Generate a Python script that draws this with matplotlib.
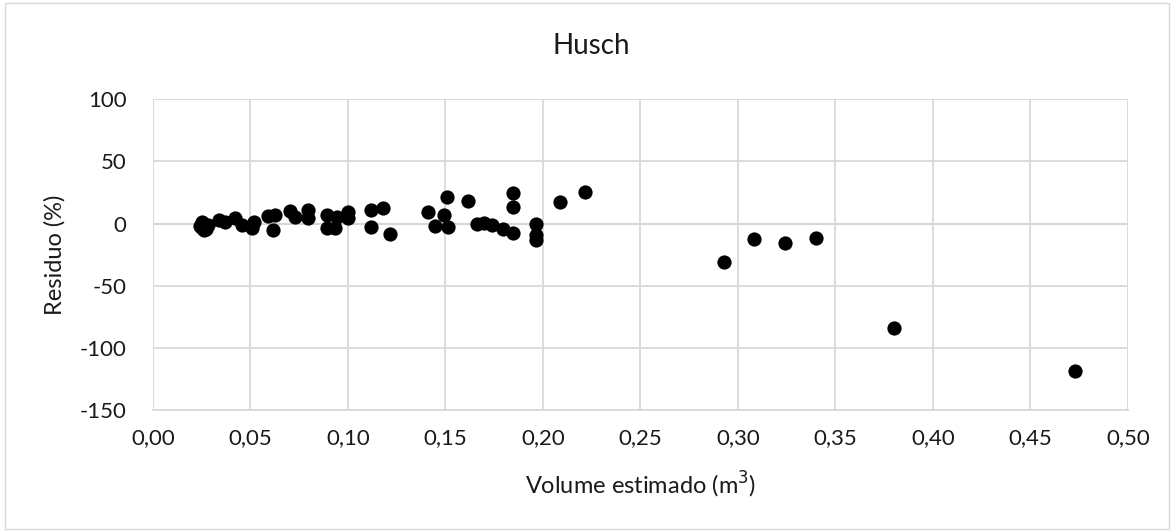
import matplotlib.pyplot as plt
from matplotlib.patches import Rectangle
from matplotlib.ticker import FuncFormatter

plt.rcParams['font.family'] = ['Lato', 'DejaVu Sans']
plt.rcParams['axes.unicode_minus'] = False

volume = [0.024, 0.025, 0.025, 0.026, 0.027, 0.028, 0.034, 0.037, 0.042, 0.0455,
          0.0506, 0.052, 0.059, 0.0626, 0.0617, 0.0703, 0.0728, 0.0797, 0.0797,
          0.0891, 0.0891, 0.0933, 0.0942, 0.1002, 0.1002, 0.112, 0.112, 0.118,
          0.1215, 0.141, 0.1506, 0.149, 0.1446, 0.1514, 0.1617, 0.166, 0.170,
          0.1737, 0.1796, 0.1845, 0.1845, 0.1845, 0.1964, 0.1964, 0.1964, 0.2087,
          0.2215, 0.293, 0.308, 0.324, 0.340, 0.380, 0.473]
residuo = [-2.0, 1.0, -3.5, -5.0, -4.0, -1.5, 3.0, 1.5, 4.5, -1.5,
           -3.5, 1.5, 6.5, 6.9, -5.0, 10.0, 5.5, 10.9, 4.5,
           6.9, -3.9, -3.9, 5.5, 9.5, 4.2, 10.9, -2.6, 12.7,
           -8.5, 9.5, 21.6, 6.9, -2.0, -2.6, 18.4, -0.4, 0.2,
           -1.2, -4.7, -7.9, 24.4, 13.1, -0.4, -9.3, -13.3, 17.1,
           25.2, -31.0, -12.0, -16.0, -11.5, -84.0, -119.0]

xticks = [0.0, 0.05, 0.10, 0.15, 0.20, 0.25, 0.30, 0.35, 0.40, 0.45, 0.50]
yticks = [-150, -100, -50, 0, 50, 100]

fig = plt.figure(figsize=(11.74, 5.32), dpi=100)
fig.patches.append(Rectangle((0.004, 0.006), 0.992, 0.988, transform=fig.transFigure,
                             fill=False, edgecolor='#d9d9d9', linewidth=1))
ax = fig.add_axes([0.1303, 0.2293, 0.8305, 0.584])

ax.scatter(volume, residuo, s=105, color='black', zorder=3, linewidths=0)

ax.set_xlim(0, 0.5)
ax.set_ylim(-150, 100)
ax.set_xticks(xticks)
ax.set_yticks(yticks)
ax.xaxis.set_major_formatter(FuncFormatter(lambda v, p: f"{v:.2f}".replace('.', ',')))
ax.grid(True, color='#d9d9d9', linewidth=1.3, zorder=0)
ax.axhline(0, color='#bfbfbf', linewidth=1.5, zorder=1)
for side in ['top', 'right', 'left']:
    ax.spines[side].set_visible(False)
ax.spines['bottom'].set_color('#d9d9d9')
ax.spines['bottom'].set_linewidth(1.3)
ax.tick_params(length=0, labelsize=16, colors='#1a1a1a')
ax.tick_params(axis='y', pad=19)
ax.tick_params(axis='x', pad=13)

# title is centred on the whole chart area, not on the plot
fig.text(0.5035, 1 - 46 / 532, "Husch", ha='center', va='center',
         fontsize=20, color='#1a1a1a')
ax.set_xlabel("Volume estimado (m$^3$)", fontsize=17, color='#1a1a1a', labelpad=16)
ax.set_ylabel("Residuo (%)", fontsize=17, color='#1a1a1a', labelpad=10)

fig.savefig("out.png", dpi=100)
